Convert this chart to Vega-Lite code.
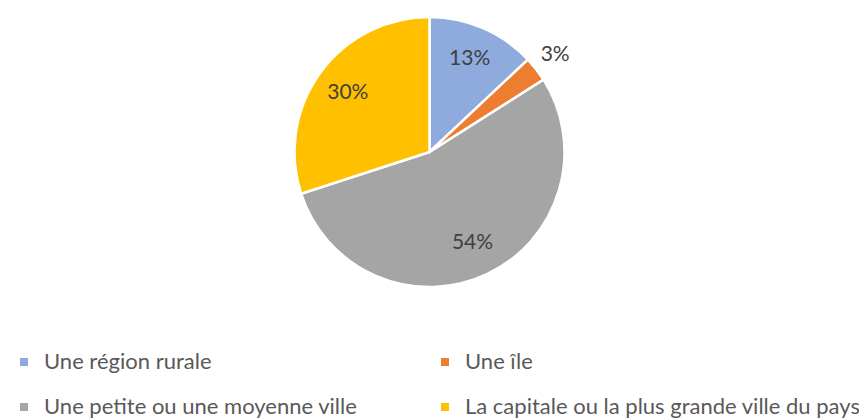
{
  "$schema": "https://vega.github.io/schema/vega-lite/v6.json",
  "autosize": {"type": "none"},
  "width": 859,
  "height": 304,
  "padding": {"top": 0, "left": 0, "right": 0, "bottom": 114},
  "background": "white",
  "config": {"view": {"stroke": null}, "font": "Lato, sans-serif"},
  "data": {
    "values": [
      {"categorie": "Une région rurale", "part": 0.13, "rang": 1},
      {"categorie": "Une île", "part": 0.03, "rang": 2},
      {"categorie": "Une petite ou une moyenne ville", "part": 0.54, "rang": 3},
      {"categorie": "La capitale ou la plus grande ville du pays", "part": 0.30, "rang": 4}
    ]
  },
  "encoding": {
    "theta": {"field": "part", "type": "quantitative", "stack": true},
    "order": {"field": "rang", "type": "ordinal"}
  },
  "layer": [
    {
      "mark": {"type": "arc", "outerRadius": 135, "stroke": "white", "strokeWidth": 2.5},
      "encoding": {
        "color": {
          "field": "categorie",
          "type": "nominal",
          "scale": {
            "domain": ["Une région rurale", "Une petite ou une moyenne ville", "Une île", "La capitale ou la plus grande ville du pays"],
            "range": ["#8FAADC", "#A5A5A5", "#ED7D31", "#FFC000"]
          },
          "legend": {
            "title": null,
            "orient": "none",
            "legendX": 13,
            "legendY": 351,
            "columns": 2,
            "columnPadding": 76,
            "rowPadding": 23,
            "symbolType": "square",
            "symbolSize": 64,
            "symbolStrokeWidth": 0,
            "labelFontSize": 22,
            "labelColor": "#595959",
            "labelOffset": 9,
            "labelLimit": 600
          }
        }
      }
    },
    {
      "mark": {"type": "text", "radius": 101, "fontSize": 21, "fill": "#404040"},
      "encoding": {
        "text": {"field": "part", "type": "quantitative", "format": ".0%"},
        "opacity": {"condition": {"test": "datum.categorie === 'Une île'", "value": 0}, "value": 1}
      }
    },
    {
      "mark": {"type": "text", "radius": 159, "fontSize": 21, "fill": "#404040"},
      "encoding": {
        "text": {"field": "part", "type": "quantitative", "format": ".0%"},
        "opacity": {"condition": {"test": "datum.categorie === 'Une île'", "value": 1}, "value": 0}
      }
    }
  ]
}
